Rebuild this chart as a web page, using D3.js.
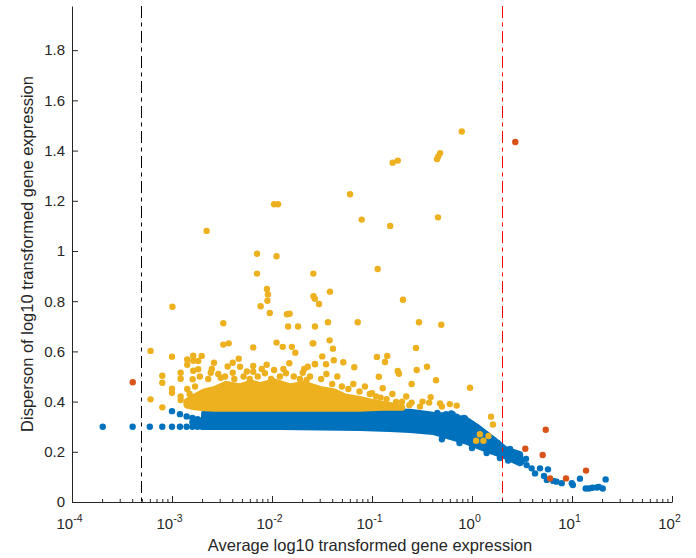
<!DOCTYPE html>
<html>
<head>
<meta charset="utf-8">
<script src="https://cdn.jsdelivr.net/npm/d3@7"></script>
<style>
  body { margin: 0; background: #fff; }
  svg { font-family: "Liberation Sans", Arial, sans-serif; }
</style>
</head>
<body>
<svg id="plot" width="696" height="558"></svg>
<script>
// ---- data ----
const xDecades = [-4, -3, -2, -1, 0, 1, 2];
const yTicks = [0, 0.2, 0.4, 0.6, 0.8, 1, 1.2, 1.4, 1.6, 1.8];
const yTickLabels = ['0', '0.2', '0.4', '0.6', '0.8', '1', '1.2', '1.4', '1.6', '1.8'];
const lowCutoff = 5e-4;
const highCutoff = 2;

// dense blue band: envelope of dot centres
const blueBandX = [0.0021, 0.0048, 0.012, 0.0302, 0.0759, 0.151, 0.24, 0.407, 0.603, 0.891, 1.2, 1.62, 2.14, 3.02];
const blueBandTop = [0.352, 0.355, 0.355, 0.355, 0.359, 0.361, 0.359, 0.347, 0.343, 0.325, 0.29, 0.25, 0.21, 0.19];
const blueBandBottom = [0.3, 0.3, 0.3, 0.298, 0.296, 0.292, 0.288, 0.28, 0.26, 0.24, 0.22, 0.2, 0.183, 0.155];

// dense yellow core: envelope of dot centres
const yellowBandX = [0.0014, 0.0017, 0.0021, 0.0027, 0.0035, 0.0048, 0.0062, 0.0076, 0.0105, 0.0151, 0.021, 0.0302, 0.042, 0.0537, 0.075, 0.0955, 0.13, 0.2];
const yellowBandTop = [0.40, 0.42, 0.44, 0.45, 0.47, 0.46, 0.475, 0.465, 0.48, 0.46, 0.47, 0.45, 0.44, 0.42, 0.41, 0.40, 0.39, 0.378];
const yellowBandBottom = [0.385, 0.378, 0.374, 0.372, 0.372, 0.372, 0.372, 0.372, 0.372, 0.372, 0.372, 0.372, 0.372, 0.372, 0.372, 0.374, 0.376, 0.376];

const bluePoints = [
  [2.03e-4, 0.3], [4.04e-4, 0.3], [6.0e-4, 0.3], [8.0e-4, 0.3], [1.0e-3, 0.3], [1.2e-3, 0.3],
  [1.4e-3, 0.3], [1.6e-3, 0.3], [1.8e-3, 0.3], [2.0e-3, 0.3],
  [1.0e-3, 0.362], [1.2e-3, 0.35], [1.4e-3, 0.341], [1.6e-3, 0.335], [1.8e-3, 0.33], [2.0e-3, 0.326],
  [1.6e-3, 0.318], [1.8e-3, 0.315], [2.0e-3, 0.313],
  [0.45, 0.355], [0.55, 0.35], [0.62, 0.353], [0.64, 0.35], [0.7, 0.34], [0.83, 0.335], [0.85, 0.333],
  [1.0, 0.31], [1.1, 0.3], [1.35, 0.27], [1.8, 0.235],
  [0.5, 0.25], [0.75, 0.235], [1.0, 0.215], [1.4, 0.195], [1.9, 0.175], [2.3, 0.165],
  [2.4, 0.211], [2.6, 0.194], [2.9, 0.174], [3.47, 0.172], [3.14, 0.161], [3.52, 0.147],
  [3.95, 0.134], [4.27, 0.114], [4.79, 0.134], [5.75, 0.13], [5.25, 0.104], [5.6, 0.088],
  [6.5, 0.084], [7.0, 0.081], [7.9, 0.075], [9.96, 0.075], [10.2, 0.068], [12.0, 0.093],
  [21.7, 0.09], [13.7, 0.054], [14.8, 0.054], [16.0, 0.057], [17.6, 0.058], [18.6, 0.06], [20.3, 0.054]
];

const yellowPoints = [
  [0.79, 1.476], [0.48, 1.39], [0.447, 1.366], [0.46, 1.377], [0.161, 1.352], [0.181, 1.36],
  [0.0603, 1.226], [0.0789, 1.125], [0.152, 1.1], [0.457, 1.134], [0.0105, 1.186], [0.0115, 1.186],
  [0.00222, 1.08], [0.00708, 0.989], [0.0111, 0.979], [0.00708, 0.91], [0.0259, 0.91], [0.114, 0.928],
  [0.0089, 0.849], [0.0091, 0.827], [0.009, 0.802], [0.0077, 0.78], [0.0095, 0.753], [0.00101, 0.778],
  [0.00326, 0.712], [0.026, 0.82], [0.0268, 0.81], [0.0295, 0.789], [0.0141, 0.748], [0.015, 0.75],
  [0.0145, 0.699], [0.0182, 0.699], [0.0269, 0.699], [0.038, 0.838], [0.204, 0.806], [0.0363, 0.716],
  [0.072, 0.716], [0.295, 0.716], [0.493, 0.706], [0.0255, 0.632], [0.0377, 0.644], [0.0407, 0.611],
  [0.275, 0.614], [0.0318, 0.58], [0.0415, 0.565], [0.0516, 0.557], [0.0347, 0.549], [0.0269, 0.549],
  [0.112, 0.578], [0.142, 0.582], [0.135, 0.558], [0.0665, 0.537], [0.28, 0.526], [0.355, 0.539],
  [0.181, 0.522], [0.186, 0.511], [0.117, 0.499], [0.437, 0.485], [0.249, 0.47], [0.955, 0.455],
  [0.386, 0.418], [0.479, 0.393], [0.703, 0.384], [0.128, 0.453], [0.122, 0.416], [0.1, 0.433],
  [0.174, 0.399], [0.373, 0.396], [0.249, 0.396], [0.302, 0.38], [0.236, 0.386],
  [1.55, 0.34], [1.62, 0.309], [1.2, 0.27], [1.46, 0.263], [1.1, 0.244], [1.3, 0.244],
  [6.1e-4, 0.602], [6.1e-4, 0.409], [8.0e-4, 0.503], [8.0e-4, 0.475], [8.0e-4, 0.377],
  [1.0e-3, 0.579], [1.0e-3, 0.451], [1.0e-3, 0.435], [1.22e-3, 0.515], [1.22e-3, 0.491],
  [1.22e-3, 0.42], [1.22e-3, 0.406], [1.42e-3, 0.568], [1.42e-3, 0.547], [1.63e-3, 0.583],
  [1.63e-3, 0.563], [1.63e-3, 0.523], [1.83e-3, 0.562], [1.98e-3, 0.582], [1.83e-3, 0.529],
  [1.61e-3, 0.489], [2.63e-3, 0.555], [2.44e-3, 0.515], [3.07e-3, 0.495], [3.26e-3, 0.627],
  [3.69e-3, 0.632], [4.05e-3, 0.555], [4.65e-3, 0.571], [4.79e-3, 0.539], [4.05e-3, 0.515],
  [6.5e-3, 0.616], [6.5e-3, 0.542], [6.5e-3, 0.519], [8.85e-3, 0.547], [8.5e-3, 0.513],
  [0.0111, 0.635], [0.0128, 0.618], [0.0158, 0.618], [0.0171, 0.595], [0.0149, 0.553],
  [0.0138, 0.513], [0.0105, 0.526], [0.0259, 0.632], [0.0228, 0.539], [0.0269, 0.55],
  [0.0203, 0.515], [0.0222, 0.486],
  [0.0019, 0.5], [0.0023, 0.49], [0.0025, 0.53], [0.0029, 0.51], [0.0034, 0.5], [0.0036, 0.54],
  [0.0042, 0.49], [0.0052, 0.5], [0.0056, 0.52], [0.006, 0.49], [0.0072, 0.5], [0.0079, 0.53],
  [0.0098, 0.49], [0.012, 0.5], [0.013, 0.53], [0.0165, 0.5], [0.019, 0.49], [0.021, 0.53],
  [0.024, 0.5], [0.031, 0.49], [0.035, 0.51], [0.04, 0.47], [0.045, 0.5], [0.05, 0.46],
  [0.058, 0.45], [0.065, 0.47], [0.075, 0.44], [0.085, 0.46], [0.095, 0.43], [0.11, 0.42],
  [0.14, 0.41], [0.16, 0.43], [0.2, 0.4], [0.22, 0.42], [0.32, 0.4], [0.5, 0.38], [0.6, 0.39],
  [1.42e-3, 0.45], [1.5e-3, 0.43], [1.7e-3, 0.46]
];

const redPoints = [
  [4.05e-4, 0.477], [2.71, 1.434], [5.46, 0.288], [3.41, 0.212], [5.09, 0.187],
  [13.8, 0.125], [6.03, 0.094], [8.71, 0.094]
];

const colors = { blue: '#0072BD', yellow: '#EDB120', red: '#D95319', axis: '#262626' };

// ---- drawing ----
const svg = d3.select('#plot');
const plotLeft = 72, plotRight = 672, plotTop = 6, plotBottom = 502;
const dotR = 3.2;

const x = d3.scaleLog().domain([1e-4, 1e2]).range([plotLeft, plotRight]);
const y = d3.scaleLinear().domain([0, 1.976]).range([plotBottom, plotTop]);

// dense clouds as envelopes, stroked with dot diameter
const band = (xs, tops, bottoms, color) => {
  const rows = xs.map((v, i) => [v, tops[i], bottoms[i]]);
  const area = d3.area()
    .x(d => x(d[0]))
    .y0(d => y(d[2]))
    .y1(d => y(d[1]));
  svg.append('path')
    .attr('d', area(rows))
    .attr('fill', color)
    .attr('stroke', color)
    .attr('stroke-width', dotR * 2)
    .attr('stroke-linejoin', 'round');
};

const dots = (pts, color) => {
  svg.append('g').selectAll('circle')
    .data(pts)
    .enter()
    .append('circle')
    .attr('cx', d => x(d[0]))
    .attr('cy', d => y(d[1]))
    .attr('r', dotR)
    .attr('fill', color);
};

band(blueBandX, blueBandTop, blueBandBottom, colors.blue);
dots(bluePoints, colors.blue);
band(yellowBandX, yellowBandTop, yellowBandBottom, colors.yellow);
dots(yellowPoints, colors.yellow);
dots(redPoints, colors.red);

// cutoff lines
const vline = (v, color) => {
  const px = Math.floor(x(v)) + 0.5;
  svg.append('line')
    .attr('x1', px).attr('x2', px)
    .attr('y1', plotTop).attr('y2', plotBottom)
    .attr('stroke', color)
    .attr('stroke-width', 1)
    .attr('stroke-dasharray', '12,4.5,4,4.5');
};
vline(lowCutoff, '#000');
vline(highCutoff, '#ff0000');

// y axis (ticks point inward)
const yAxis = svg.append('g')
  .attr('transform', 'translate(' + plotLeft + ',0)')
  .call(d3.axisLeft(y).tickValues(yTicks).tickSize(-6).tickSizeOuter(0).tickPadding(7)
    .tickFormat((d, i) => yTickLabels[i]));

// x axis: major decades and minor ticks
const minorTicks = [];
xDecades.slice(0, -1).forEach(d => {
  for (let k = 2; k <= 9; k++) minorTicks.push(k * Math.pow(10, d));
});
svg.append('g')
  .attr('transform', 'translate(0,' + plotBottom + ')')
  .call(d3.axisBottom(x).tickValues(xDecades.map(d => Math.pow(10, d))).tickSize(-6)
    .tickSizeOuter(0).tickFormat(''));
svg.append('g')
  .attr('transform', 'translate(0,' + plotBottom + ')')
  .call(d3.axisBottom(x).tickValues(minorTicks).tickSize(-3).tickSizeOuter(0).tickFormat(''))
  .select('.domain').remove();

svg.selectAll('.domain, .tick line').attr('stroke', colors.axis);
yAxis.selectAll('text').attr('fill', colors.axis).attr('font-size', 15)
  .attr('font-family', '"Liberation Sans", Arial, sans-serif');

const xLabels = svg.append('g').selectAll('text')
  .data(xDecades)
  .enter()
  .append('text')
  .attr('x', d => x(Math.pow(10, d)) - 2.5)
  .attr('y', 529)
  .attr('text-anchor', 'middle')
  .attr('fill', colors.axis)
  .attr('font-size', 15);
xLabels.append('tspan').text('10');
xLabels.append('tspan').attr('dy', -7).attr('font-size', 10.5).text(d => String(d));

// axis titles
svg.append('text')
  .attr('x', 370)
  .attr('y', 551)
  .attr('text-anchor', 'middle')
  .attr('fill', colors.axis)
  .attr('font-size', 16.5)
  .text('Average log10 transformed gene expression');

svg.append('text')
  .attr('transform', 'translate(33,254) rotate(-90)')
  .attr('text-anchor', 'middle')
  .attr('fill', colors.axis)
  .attr('font-size', 16.5)
  .text('Disperson of log10 transformed gene expression');
</script>
</body>
</html>
